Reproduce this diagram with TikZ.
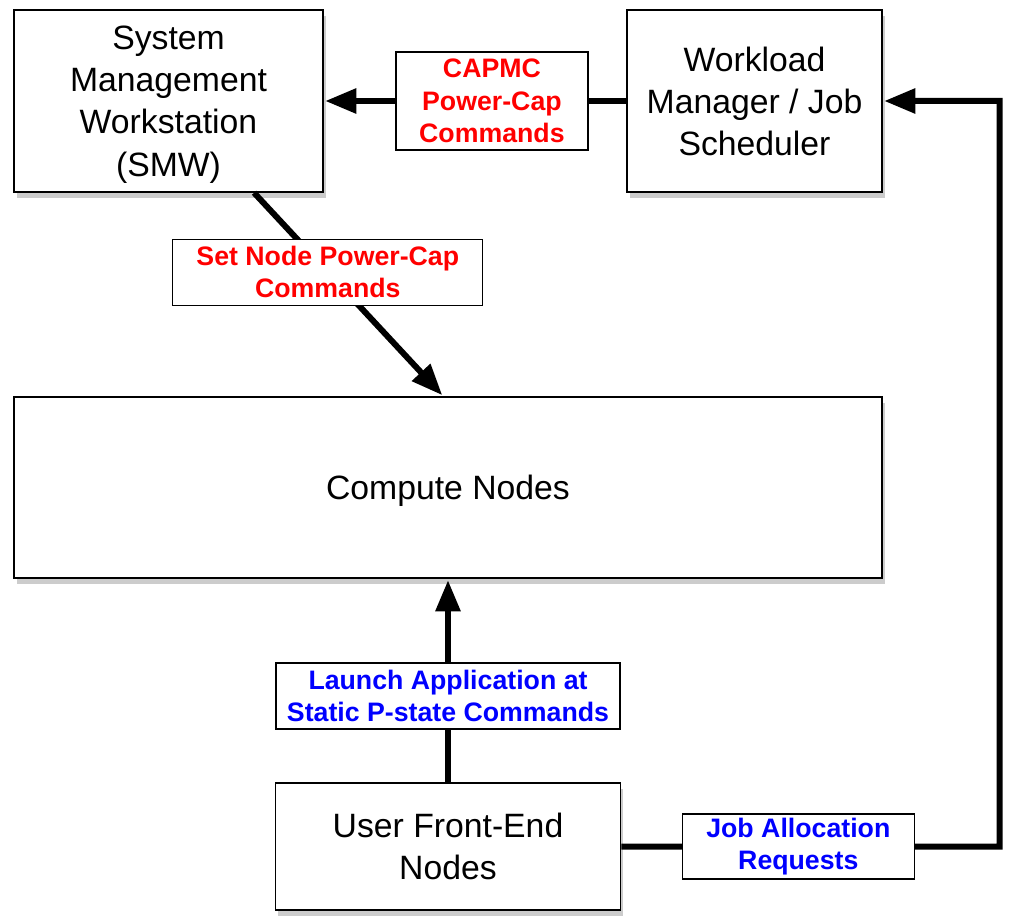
\documentclass[tikz,border=0pt]{standalone}
\usepackage{fontspec}
\setmainfont{Liberation Sans}
\usepackage{tikz}
\usetikzlibrary{shadows}
\usetikzlibrary{positioning}
\usetikzlibrary{arrows.meta}

\begin{document}
\begin{tikzpicture}[>={Triangle[length=0.78cm,width=0.6cm]},shorten >=1pt,
	node distance=2cm,line width=0.15cm,
	main node/.style={rectangle,draw,line width=1.1pt,fill=white,align=center,
		font=\fontsize{24}{30}\selectfont,text depth=0pt,
		drop shadow={shadow xshift=0.07cm,shadow yshift=-0.15cm,opacity=0.4,fill=gray}},
	tag node/.style={rectangle,draw,line width=0.8pt,fill=white,align=center,
		inner sep=0pt,font=\bfseries\fontsize{19}{23}\selectfont}]
	
	\useasboundingbox (0,0) rectangle (25.3,-22.9);
	
	\node[main node,minimum width=7.725cm,minimum height=4.55cm] (smw) at (4.2125,-2.525) {System\\Management\\Workstation\\(SMW)};
	\node[main node,minimum width=6.375cm,minimum height=4.55cm] (wlm) [right of=smw,node distance=14.65cm] {Workload\\Manager / Job\\Scheduler};
	\node[main node,minimum width=21.7cm,minimum height=4.525cm] (compute) at (11.2,-12.1875) {Compute Nodes};
	\node[main node,minimum width=8.625cm,minimum height=3.175cm] (ufe) [below of=compute,node distance=8.975cm] {User Front-End\\Nodes};
	\coordinate (turn) at (24.99,-21.1625);
	
	\path[->]
	(wlm) edge node[tag node,text=red,minimum width=4.8cm,minimum height=2.45cm,pos=0.444] (capmc) {CAPMC\\Power-Cap\\Commands} (smw)
	(smw.-47) edge node[tag node,text=red,minimum width=7.75cm,minimum height=1.65cm,pos=0.39] (setcap) {Set Node Power-Cap\\Commands} (compute.93.6)
	(ufe) edge node[tag node,text=blue,minimum width=8.6cm,minimum height=1.65cm,pos=0.424] (launch) {Launch Application at\\Static P-state Commands} (compute);
	
	\draw[->] (ufe) -- node[tag node,text=blue,minimum width=5.8cm,minimum height=1.625cm,pos=0.468] (jobreq) {Job Allocation\\Requests} (turn) |- (wlm);
\end{tikzpicture}
\end{document}
